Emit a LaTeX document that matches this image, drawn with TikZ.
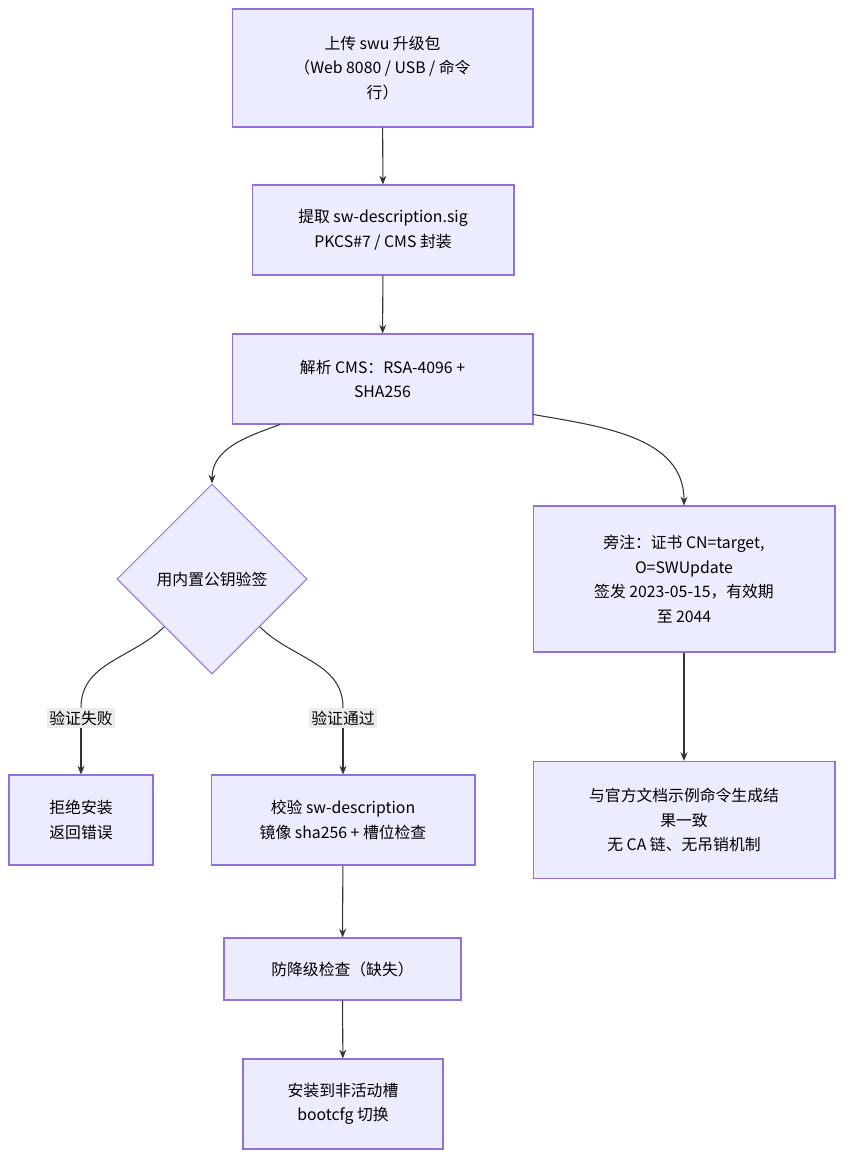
\documentclass[tikz,border=0pt]{standalone}
\usepackage{fontspec}
\setmainfont{Noto Sans CJK SC}
\usepackage{tikz}
\usetikzlibrary{
  shapes.geometric,
  arrows.meta
}
\definecolor{boxfill}{HTML}{ECECFF}
\definecolor{boxline}{HTML}{9370DB}
\definecolor{edge}{HTML}{333333}
\definecolor{lblfill}{HTML}{E8E8E8}

\begin{document}
\begin{tikzpicture}[x=0.02cm,y=-0.02cm,
    font=\fontsize{9}{14}\selectfont,
    box/.style={
        draw=boxline,
        fill=boxfill,
        line width=0.6pt,
        align=center,
        inner sep=0pt
      },
    decision/.style={
        box,
        diamond,
        minimum width=3.8cm,
        minimum height=3.8cm
      },
    lbl/.style={
        fill=lblfill,
        fill opacity=0.85,
        text opacity=1,
        inner sep=1.5pt
      },
    arr/.style={
        draw=edge,
        line width=0.6pt,
        -{Stealth[length=5pt,width=4pt]}
      }
  ]
  \useasboundingbox (0,0) rectangle (854,1171);

  % 主流程
  \node[box, minimum width=6.02cm, minimum height=2.36cm] (upload) at (382.5,68)
    {上传 swu 升级包\\（Web 8080 / USB / 命令\\行）};
  \node[box, minimum width=5.24cm, minimum height=1.8cm] (extract) at (383,230)
    {提取 sw-description.sig\\PKCS\#7 / CMS 封装};
  \node[box, minimum width=6.02cm, minimum height=1.8cm] (parse) at (382.5,379)
    {解析 CMS：RSA-4096 +\\SHA256};
  \node[decision] (verify) at (212,579) {用内置公钥验签};

  % 旁注
  \node[box, minimum width=6.04cm, minimum height=2.92cm] (note) at (684,579)
    {旁注：证书 CN=target,\\O=SWUpdate\\签发 2023-05-15，有效期\\至 2044};
  \node[box, minimum width=6.04cm, minimum height=2.34cm] (same) at (684,820)
    {与官方文档示例命令生成结\\果一致\\无 CA 链、无吊销机制};

  % 分支
  \node[box, minimum width=2.88cm, minimum height=1.8cm] (reject) at (81,820)
    {拒绝安装\\返回错误};
  \node[box, minimum width=5.28cm, minimum height=1.8cm] (check) at (343,820)
    {校验 sw-description\\镜像 sha256 + 槽位检查};
  \node[box, minimum width=4.74cm, minimum height=1.24cm] (downgrade) at (342.5,969)
    {防降级检查（缺失）};
  \node[box, minimum width=4cm, minimum height=1.8cm] (install) at (343,1104)
    {安装到非活动槽\\bootcfg 切换};

  \node[lbl] (fail) at (81,718) {验证失败};
  \node[lbl] (pass) at (343,718) {验证通过};

  % 连线
  \draw[arr] (upload) -- (extract);
  \draw[arr] (extract) -- (parse);
  \draw[arr] ([xshift=-2.05cm]parse.south) to[out=-160,in=90] (verify.north);
  \draw[arr] ([yshift=0.2cm]parse.south east) to[out=-10,in=90] (note.north);
  \draw[arr] (note) -- (same);
  \draw[draw=edge,line width=0.6pt] (verify.south west) to[out=-135,in=90] (fail.north);
  \draw[arr] (fail.south) -- (reject.north);
  \draw[draw=edge,line width=0.6pt] (verify.south east) to[out=-45,in=90] (pass.north);
  \draw[arr] (pass.south) -- (check.north);
  \draw[arr] (check) -- (downgrade);
  \draw[arr] (downgrade) -- (install);
\end{tikzpicture}
\end{document}
